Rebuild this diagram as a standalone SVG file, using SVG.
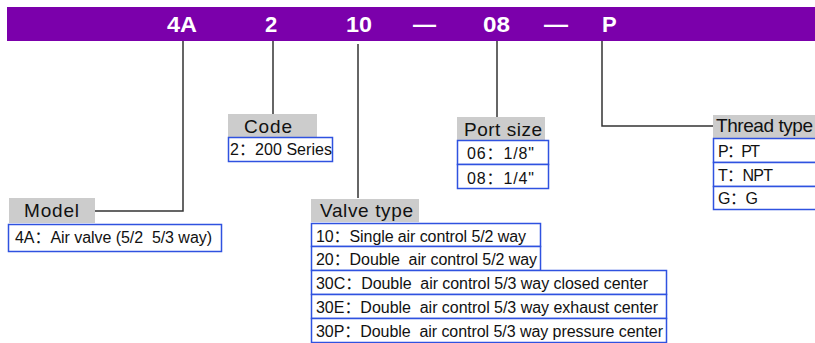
<svg xmlns="http://www.w3.org/2000/svg" width="815" height="343" viewBox="0 0 815 343">
<style>
text{white-space:pre}
.bar{fill:#7B00AB}
.code{font-family:"Liberation Sans",Arial,sans-serif;font-weight:bold;font-size:22px;fill:#fff}
.lbl{fill:#CCCCCC}
.lt{font-family:"Liberation Sans",Arial,"Noto Sans CJK SC",sans-serif;font-size:19px;fill:#111}
.box{fill:#fff;stroke:#2F52E0;stroke-width:1.5}
.t{font-family:"Liberation Sans",Arial,"Noto Sans CJK SC",sans-serif;font-size:16px;fill:#111}
.ln{fill:none;stroke:#333;stroke-width:1.5}
</style>
<rect width="815" height="343" fill="#fff"/>
<g id="header">
<rect class="bar" x="7" y="7" width="808" height="34"/>
<text class="code" x="167" y="32" textLength="30" lengthAdjust="spacingAndGlyphs">4A</text>
<text class="code" x="265" y="32">2</text>
<text class="code" x="346" y="32" textLength="26" lengthAdjust="spacingAndGlyphs">10</text>
<text class="code" x="413" y="32" textLength="23" lengthAdjust="spacingAndGlyphs">—</text>
<text class="code" x="483" y="32" textLength="27" lengthAdjust="spacingAndGlyphs">08</text>
<text class="code" x="544" y="32" textLength="24" lengthAdjust="spacingAndGlyphs">—</text>
<text class="code" x="602" y="32">P</text>
</g>
<g id="connectors">
<polyline class="ln" points="183,41 183,211 95,211"/>
<line class="ln" x1="273" y1="41" x2="273" y2="114"/>
<line class="ln" x1="358" y1="44" x2="358" y2="198"/>
<line class="ln" x1="497" y1="41" x2="497" y2="117"/>
<polyline class="ln" points="602,41 602,126 713,126"/>
</g>
<g id="model">
<rect class="lbl" x="9" y="198" width="86" height="25"/>
<text class="lt" x="24" y="217" textLength="55" lengthAdjust="spacing">Model</text>
<rect class="box" x="8.5" y="224.5" width="213" height="27"/>
<text class="t" x="15" y="243" textLength="197" lengthAdjust="spacing">4A：Air valve (5/2  5/3 way)</text>
</g>
<g id="code">
<rect class="lbl" x="228" y="114" width="89" height="23"/>
<text class="lt" x="244" y="133" textLength="48" lengthAdjust="spacing">Code</text>
<rect class="box" x="228.5" y="137.5" width="104" height="24"/>
<text class="t" x="230" y="155" textLength="102" lengthAdjust="spacing">2：200 Series</text>
</g>
<g id="valve-type">
<rect class="lbl" x="311" y="199" width="108" height="23"/>
<text class="lt" x="320" y="217" textLength="93" lengthAdjust="spacing">Valve type</text>
<rect class="box" x="311.5" y="223.5" width="229" height="23"/>
<rect class="box" x="311.5" y="246.5" width="229" height="24"/>
<rect class="box" x="311.5" y="270.5" width="355" height="24"/>
<rect class="box" x="311.5" y="294.5" width="355" height="24"/>
<rect class="box" x="311.5" y="318.5" width="355" height="24"/>
<text class="t" x="316" y="242" textLength="210" lengthAdjust="spacing">10：Single air control 5/2 way</text>
<text class="t" x="316" y="265" textLength="221" lengthAdjust="spacing">20：Double  air control 5/2 way</text>
<text class="t" x="316" y="289" textLength="332" lengthAdjust="spacing">30C：Double  air control 5/3 way closed center</text>
<text class="t" x="316" y="313" textLength="342" lengthAdjust="spacing">30E：Double  air control 5/3 way exhaust center</text>
<text class="t" x="316" y="337" textLength="347" lengthAdjust="spacing">30P：Double  air control 5/3 way pressure center</text>
</g>
<g id="port-size">
<rect class="lbl" x="457" y="117" width="88" height="23"/>
<text class="lt" x="464" y="136" textLength="78" lengthAdjust="spacing">Port size</text>
<rect class="box" x="457.5" y="140.5" width="91" height="24"/>
<rect class="box" x="457.5" y="164.5" width="91" height="24"/>
<text class="t" x="467" y="159" textLength="67" lengthAdjust="spacing">06：1/8"</text>
<text class="t" x="467" y="184" textLength="67" lengthAdjust="spacing">08：1/4"</text>
</g>
<g id="thread-type">
<rect class="lbl" x="713" y="115" width="102" height="23"/>
<text class="lt" x="716" y="132" textLength="97" lengthAdjust="spacing">Thread type</text>
<rect class="box" x="713.5" y="138.5" width="110" height="24"/>
<rect class="box" x="713.5" y="162.5" width="110" height="24"/>
<rect class="box" x="713.5" y="186.5" width="110" height="23"/>
<text class="t" x="718" y="157" textLength="42" lengthAdjust="spacing">P：PT</text>
<text class="t" x="718" y="181" textLength="55" lengthAdjust="spacing">T：NPT</text>
<text class="t" x="718" y="204" textLength="40" lengthAdjust="spacing">G：G</text>
</g>
</svg>
